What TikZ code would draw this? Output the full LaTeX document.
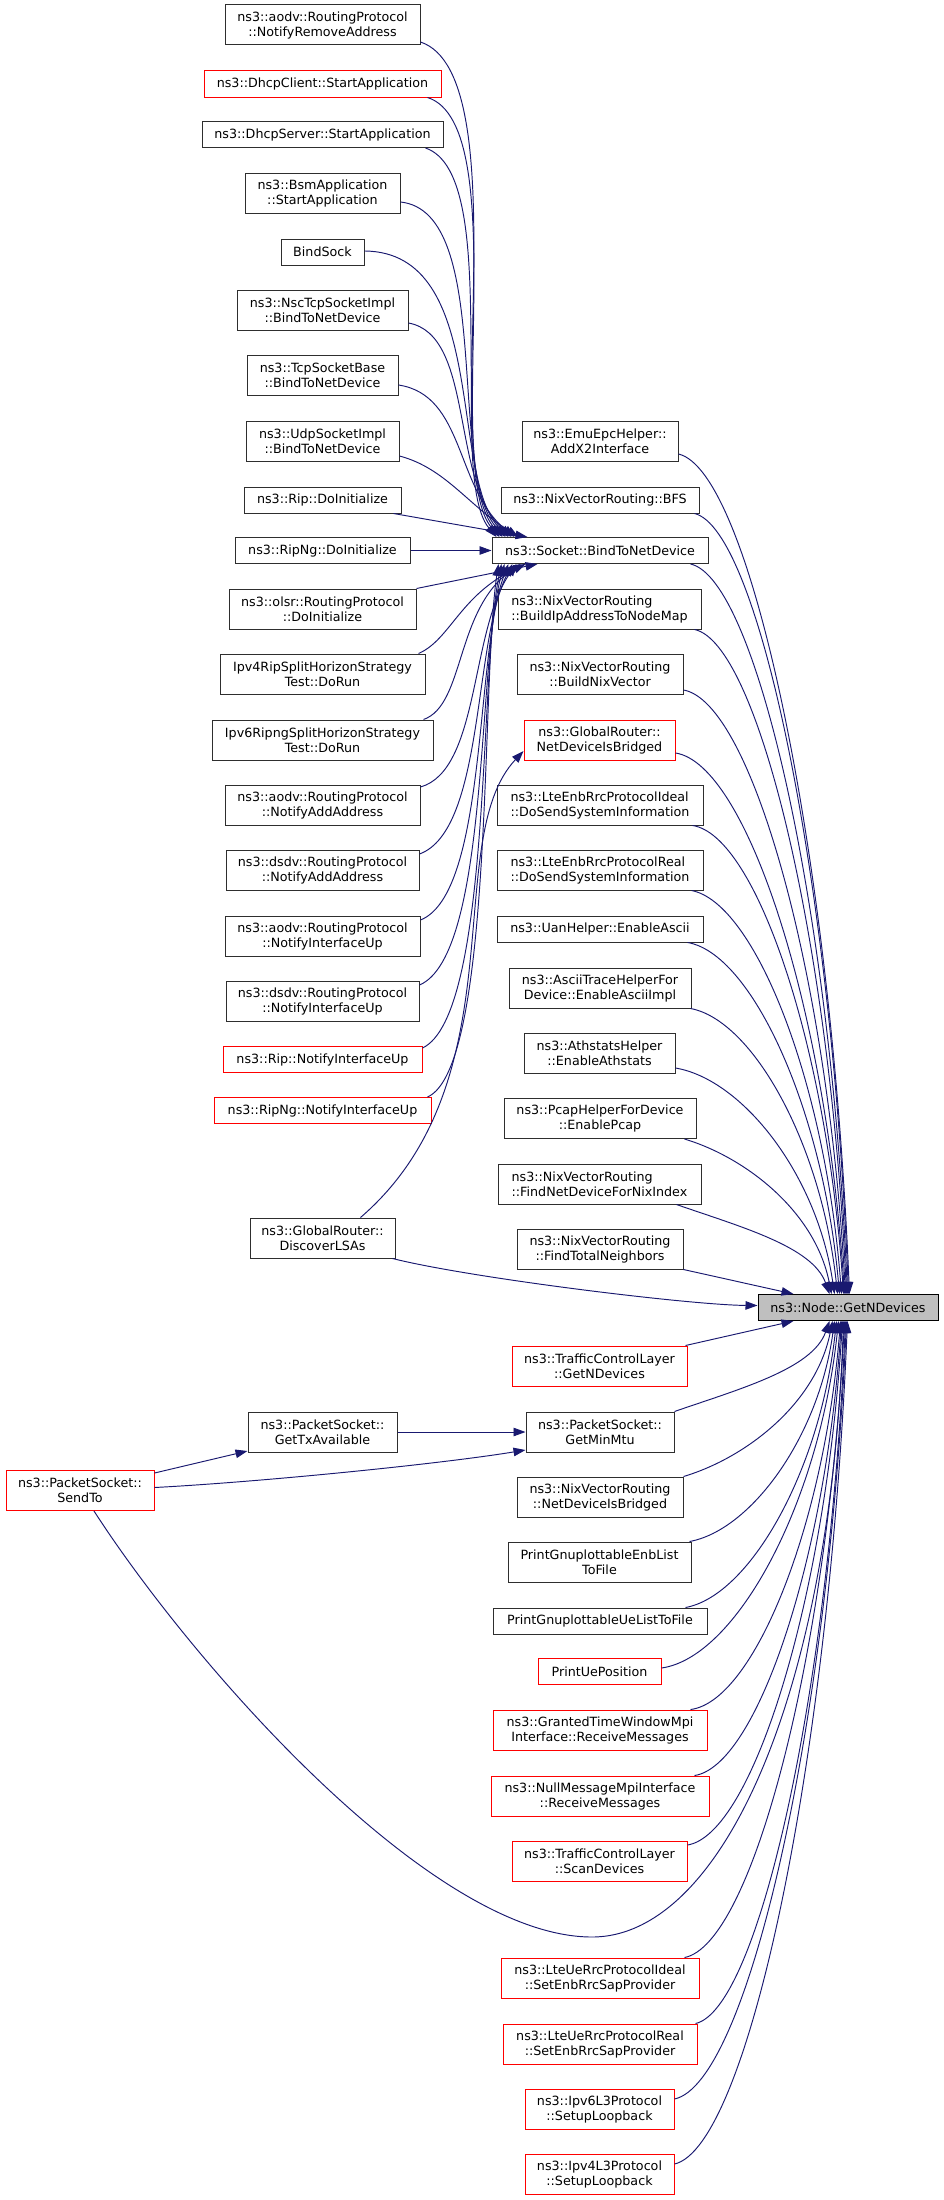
\documentclass[tikz,border=0pt]{standalone}
\usepackage{fontspec}
\setmainfont{DejaVu Sans}
\usetikzlibrary{arrows.meta,calc}
\definecolor{edgec}{HTML}{191970}
\definecolor{boxc}{HTML}{2E2E2E}
\definecolor{redc}{HTML}{FF0000}
\definecolor{hilc}{HTML}{BFBFBF}
\tikzset{
  gbox/.style={draw=boxc, fill=white, line width=1pt, inner sep=0pt, align=center,
    font=\fontsize{12.7}{15}\selectfont, text=black},
  redbox/.style={gbox, draw=redc},
  hibox/.style={gbox, draw=black, fill=hilc},
  conn/.style={draw=edgec, line width=0.95pt, -{Triangle[length=12pt,width=8.5pt]}},
}
\newcommand\rc[3]{\draw[conn] let \p1=(#1), \p2=(#2) in (\p1) .. controls ({\x1+0.42*(\x2-\x1)},{\y1+#3*(\y2-\y1)}) and ({\x2-0.11*(\x2-\x1)},{\y2-0.53*(\y2-\y1)}) .. (\p2);}
\begin{document}
\begin{tikzpicture}[x=1pt,y=-1pt]
\path[fill=white] (0,0) rectangle (944,2200);
\useasboundingbox (0,0) rectangle (944,2200);
% left column
\node[gbox, minimum width=195pt, minimum height=40pt] (n1) at (322.5,25) {ns3::aodv::RoutingProtocol\\::NotifyRemoveAddress};
\node[redbox, minimum width=237pt, minimum height=26pt] (n2) at (322.5,84) {ns3::DhcpClient::StartApplication};
\node[gbox, minimum width=241pt, minimum height=26pt] (n3) at (322.5,134.5) {ns3::DhcpServer::StartApplication};
\node[gbox, minimum width=155pt, minimum height=40pt] (n4) at (322.5,193) {ns3::BsmApplication\\::StartApplication};
\node[gbox, minimum width=83pt, minimum height=26pt] (n5) at (322.5,252) {BindSock};
\node[gbox, minimum width=171pt, minimum height=40pt] (n6) at (322.5,310.5) {ns3::NscTcpSocketImpl\\::BindToNetDevice};
\node[gbox, minimum width=151pt, minimum height=40pt] (n7) at (322.5,375.5) {ns3::TcpSocketBase\\::BindToNetDevice};
\node[gbox, minimum width=153pt, minimum height=40pt] (n8) at (322.5,441) {ns3::UdpSocketImpl\\::BindToNetDevice};
\node[gbox, minimum width=157pt, minimum height=26pt] (n9) at (322.5,500) {ns3::Rip::DoInitialize};
\node[gbox, minimum width=175pt, minimum height=26pt] (n10) at (322.5,550.5) {ns3::RipNg::DoInitialize};
\node[gbox, minimum width=187pt, minimum height=40pt] (n11) at (322.5,609) {ns3::olsr::RoutingProtocol\\::DoInitialize};
\node[gbox, minimum width=205pt, minimum height=40pt] (n12) at (322.5,674) {Ipv4RipSplitHorizonStrategy\\Test::DoRun};
\node[gbox, minimum width=221pt, minimum height=40pt] (n13) at (322.5,740) {Ipv6RipngSplitHorizonStrategy\\Test::DoRun};
\node[gbox, minimum width=195pt, minimum height=40pt] (n14) at (322.5,805) {ns3::aodv::RoutingProtocol\\::NotifyAddAddress};
\node[gbox, minimum width=193pt, minimum height=40pt] (n15) at (322.5,870) {ns3::dsdv::RoutingProtocol\\::NotifyAddAddress};
\node[gbox, minimum width=195pt, minimum height=40pt] (n16) at (322.5,936) {ns3::aodv::RoutingProtocol\\::NotifyInterfaceUp};
\node[gbox, minimum width=193pt, minimum height=40pt] (n17) at (322.5,1001) {ns3::dsdv::RoutingProtocol\\::NotifyInterfaceUp};
\node[redbox, minimum width=199pt, minimum height=26pt] (n18) at (322.5,1059.5) {ns3::Rip::NotifyInterfaceUp};
\node[redbox, minimum width=217pt, minimum height=26pt] (n19) at (322.5,1110.5) {ns3::RipNg::NotifyInterfaceUp};
\node[gbox, minimum width=145pt, minimum height=40pt] (n20) at (322.5,1238) {ns3::GlobalRouter::\\DiscoverLSAs};
\node[gbox, minimum width=149pt, minimum height=40pt] (n21) at (322.5,1432) {ns3::PacketSocket::\\GetTxAvailable};
\node[redbox, minimum width=148pt, minimum height=40pt] (n22) at (80,1490.5) {ns3::PacketSocket::\\SendTo};
% right column
\node[gbox, minimum width=156pt, minimum height=40pt] (r1) at (600,441) {ns3::EmuEpcHelper::\\AddX2Interface};
\node[gbox, minimum width=198pt, minimum height=26pt] (r2) at (600,500) {ns3::NixVectorRouting::BFS};
\node[gbox, minimum width=216pt, minimum height=26pt] (r3) at (600,550.5) {ns3::Socket::BindToNetDevice};
\node[gbox, align=left, minimum width=203pt, minimum height=40pt] (r4) at (599.5,609) {ns3::NixVectorRouting\\::BuildIpAddressToNodeMap};
\node[gbox, minimum width=166pt, minimum height=40pt] (r5) at (600,674) {ns3::NixVectorRouting\\::BuildNixVector};
\node[redbox, minimum width=151pt, minimum height=40pt] (r6) at (599.5,740) {ns3::GlobalRouter::\\NetDeviceIsBridged};
\node[gbox, align=left, minimum width=206pt, minimum height=40pt] (r7) at (600,805) {ns3::LteEnbRrcProtocolIdeal\\::DoSendSystemInformation};
\node[gbox, align=left, minimum width=206pt, minimum height=40pt] (r8) at (600,870) {ns3::LteEnbRrcProtocolReal\\::DoSendSystemInformation};
\node[gbox, minimum width=206pt, minimum height=26pt] (r9) at (600,929) {ns3::UanHelper::EnableAscii};
\node[gbox, minimum width=182pt, minimum height=40pt] (r10) at (600,988) {ns3::AsciiTraceHelperFor\\Device::EnableAsciiImpl};
\node[gbox, minimum width=151pt, minimum height=40pt] (r11) at (599.5,1053) {ns3::AthstatsHelper\\::EnableAthstats};
\node[gbox, minimum width=192pt, minimum height=40pt] (r12) at (600,1118.5) {ns3::PcapHelperForDevice\\::EnablePcap};
\node[gbox, align=left, minimum width=203pt, minimum height=40pt] (r13) at (599.5,1184) {ns3::NixVectorRouting\\::FindNetDeviceForNixIndex};
\node[gbox, minimum width=166pt, minimum height=40pt] (r14) at (600,1249) {ns3::NixVectorRouting\\::FindTotalNeighbors};
\node[hibox, minimum width=180pt, minimum height=26pt] (g) at (848,1307.5) {ns3::Node::GetNDevices};
\node[redbox, minimum width=175pt, minimum height=40pt] (r15) at (599.5,1366) {ns3::TrafficControlLayer\\::GetNDevices};
\node[gbox, minimum width=148pt, minimum height=40pt] (r16) at (600,1432) {ns3::PacketSocket::\\GetMinMtu};
\node[gbox, minimum width=166pt, minimum height=40pt] (r17) at (600,1497) {ns3::NixVectorRouting\\::NetDeviceIsBridged};
\node[gbox, minimum width=183pt, minimum height=40pt] (r18) at (599.5,1562) {PrintGnuplottableEnbList\\ToFile};
\node[gbox, minimum width=214pt, minimum height=26pt] (r19) at (600,1621) {PrintGnuplottableUeListToFile};
\node[redbox, minimum width=123pt, minimum height=26pt] (r20) at (599.5,1671.5) {PrintUePosition};
\node[redbox, minimum width=214pt, minimum height=40pt] (r21) at (600,1730) {ns3::GrantedTimeWindowMpi\\Interface::ReceiveMessages};
\node[redbox, minimum width=218pt, minimum height=40pt] (r22) at (600,1796) {ns3::NullMessageMpiInterface\\::ReceiveMessages};
\node[redbox, minimum width=175pt, minimum height=40pt] (r23) at (599.5,1861) {ns3::TrafficControlLayer\\::ScanDevices};
\node[redbox, minimum width=198pt, minimum height=40pt] (r24) at (600,1978) {ns3::LteUeRrcProtocolIdeal\\::SetEnbRrcSapProvider};
\node[redbox, minimum width=194pt, minimum height=40pt] (r25) at (600,2044) {ns3::LteUeRrcProtocolReal\\::SetEnbRrcSapProvider};
\node[redbox, minimum width=149pt, minimum height=40pt] (r26) at (599.5,2109) {ns3::Ipv6L3Protocol\\::SetupLoopback};
\node[redbox, minimum width=149pt, minimum height=40pt] (r27) at (599.5,2174) {ns3::Ipv4L3Protocol\\::SetupLoopback};
% edges into Socket::BindToNetDevice
\draw[conn] ([yshift=-17pt]n1.east) .. controls (520,75) and (440,470) .. ([xshift=5pt]r3.north west);
\draw[conn] ([xshift=-14pt]n2.south east) .. controls (515,125) and (442,470) .. ([xshift=8pt]r3.north west);
\draw[conn] ([xshift=-18pt]n3.south east) .. controls (505,175) and (444,472) .. ([xshift=11pt]r3.north west);
\draw[conn] ([yshift=-9pt]n4.east) .. controls (495,212) and (446,475) .. ([xshift=14pt]r3.north west);
\draw[conn] ([yshift=1pt]n5.east) .. controls (490,252) and (448,478) .. ([xshift=17pt]r3.north west);
\draw[conn] ([yshift=-12.5pt]n6.east) .. controls (475,335) and (450,482) .. ([xshift=20pt]r3.north west);
\draw[conn] ([yshift=-9.5pt]n7.east) .. controls (465,395) and (455,488) .. ([xshift=23pt]r3.north west);
\draw[conn] ([yshift=-15pt]n8.east) .. controls (445,468) and (468,505) .. ([xshift=27pt]r3.north west);
\draw[conn] ([xshift=-8pt]n9.south east) -- ([xshift=36pt]r3.north west);
\draw[conn] (n10.east) -- (r3.west);
\draw[conn] (n11.north east) -- ([xshift=46pt]r3.south west);
\draw[conn] ([xshift=-7pt]n12.north east) .. controls (450,640) and (460,595) .. ([xshift=34pt]r3.south west);
\draw[conn] ([xshift=-10pt]n13.north east) .. controls (465,705) and (455,610) .. ([xshift=29pt]r3.south west);
\draw[conn] ([yshift=18pt]n14.east) .. controls (480,770) and (470,630) .. ([xshift=25pt]r3.south west);
\draw[conn] ([yshift=16pt]n15.east) .. controls (485,830) and (473,640) .. ([xshift=21pt]r3.south west);
\draw[conn] ([yshift=16pt]n16.east) .. controls (488,893) and (475,650) .. ([xshift=17pt]r3.south west);
\draw[conn] ([yshift=16pt]n17.east) .. controls (490,955) and (477,660) .. ([xshift=13pt]r3.south west);
\draw[conn] ([yshift=11.5pt]n18.east) .. controls (492,1015) and (479,670) .. ([xshift=10pt]r3.south west);
\draw[conn] ([xshift=-4pt]n19.north east) .. controls (494,1068) and (481,680) .. ([xshift=7pt]r3.south west);
% DiscoverLSAs
\draw[conn] ([xshift=-35pt]n20.north east) .. controls (520,1080) and (440,840) .. ([yshift=-11pt]r6.west);
\draw[conn] ([xshift=-3pt]n20.south east) .. controls (470,1278) and (690,1305) .. ([yshift=2pt]g.west);
% PacketSocket
\draw[conn] ([yshift=17.5pt]n22.east) -- ([yshift=-19pt]n21.west);
\draw[conn] (n21.east) -- (r16.west);
\draw[conn] ([yshift=3pt]n22.east) .. controls (260,1482) and (440,1464) .. ([yshift=-18pt]r16.west);
\draw[conn] ([xshift=14pt]n22.south) .. controls (190,1660) and (430,1937) .. (592,1937) .. controls (720,1937) and (830,1700) .. ([xshift=86pt]g.south west);
% into GetNDevices from above
\rc{[yshift=-13pt]r1.east}{[xshift=92pt]g.north west}{0.02}
\rc{[xshift=-5pt]r2.south east}{[xshift=91pt]g.north west}{0.02}
\rc{[xshift=-18pt]r3.south east}{[xshift=90pt]g.north west}{0.02}
\rc{[xshift=-7pt]r4.south east}{[xshift=89pt]g.north west}{0.02}
\rc{[yshift=-16pt]r5.east}{[xshift=88pt]g.north west}{0.02}
\rc{[yshift=-13pt]r6.east}{[xshift=87pt]g.north west}{0.02}
\rc{[xshift=-11pt]r7.south east}{[xshift=86pt]g.north west}{0.02}
\rc{[xshift=-12pt]r8.south east}{[xshift=84pt]g.north west}{0.03}
\rc{[xshift=-16pt]r9.south east}{[xshift=82pt]g.north west}{0.03}
\rc{[xshift=-1pt]r10.south east}{[xshift=80pt]g.north west}{0.04}
\rc{[yshift=-15pt]r11.east}{[xshift=77pt]g.north west}{0.05}
\rc{[xshift=-12pt]r12.south east}{[xshift=74pt]g.north west}{0.12}
\rc{[xshift=-25pt]r13.south east}{[xshift=72pt]g.north west}{0.25}
\draw[conn] (r14.south east) -- ([xshift=36pt]g.north west);
% into GetNDevices from below
\draw[conn] ([xshift=-2pt]r15.north east) -- ([xshift=36pt]g.south west);
\rc{r16.north east}{[xshift=72pt]g.south west}{0.25}
\rc{r17.north east}{[xshift=75pt]g.south west}{0.12}
\rc{[xshift=-2pt]r18.north east}{[xshift=77pt]g.south west}{0.05}
\rc{[xshift=-22pt]r19.north east}{[xshift=79pt]g.south west}{0.04}
\rc{[yshift=3.5pt]r20.east}{[xshift=81pt]g.south west}{0.03}
\rc{[xshift=-17pt]r21.north east}{[xshift=83pt]g.south west}{0.02}
\rc{[xshift=-15pt]r22.north east}{[xshift=84pt]g.south west}{0.02}
\rc{[yshift=16pt]r23.east}{[xshift=85pt]g.south west}{0.02}
\rc{[xshift=-15pt]r24.north east}{[xshift=87pt]g.south west}{0.02}
\rc{[xshift=-2pt]r25.north east}{[xshift=88pt]g.south west}{0.02}
\rc{[yshift=10pt]r26.east}{[xshift=89pt]g.south west}{0.02}
\rc{[yshift=10pt]r27.east}{[xshift=90pt]g.south west}{0.02}
\end{tikzpicture}
\end{document}
